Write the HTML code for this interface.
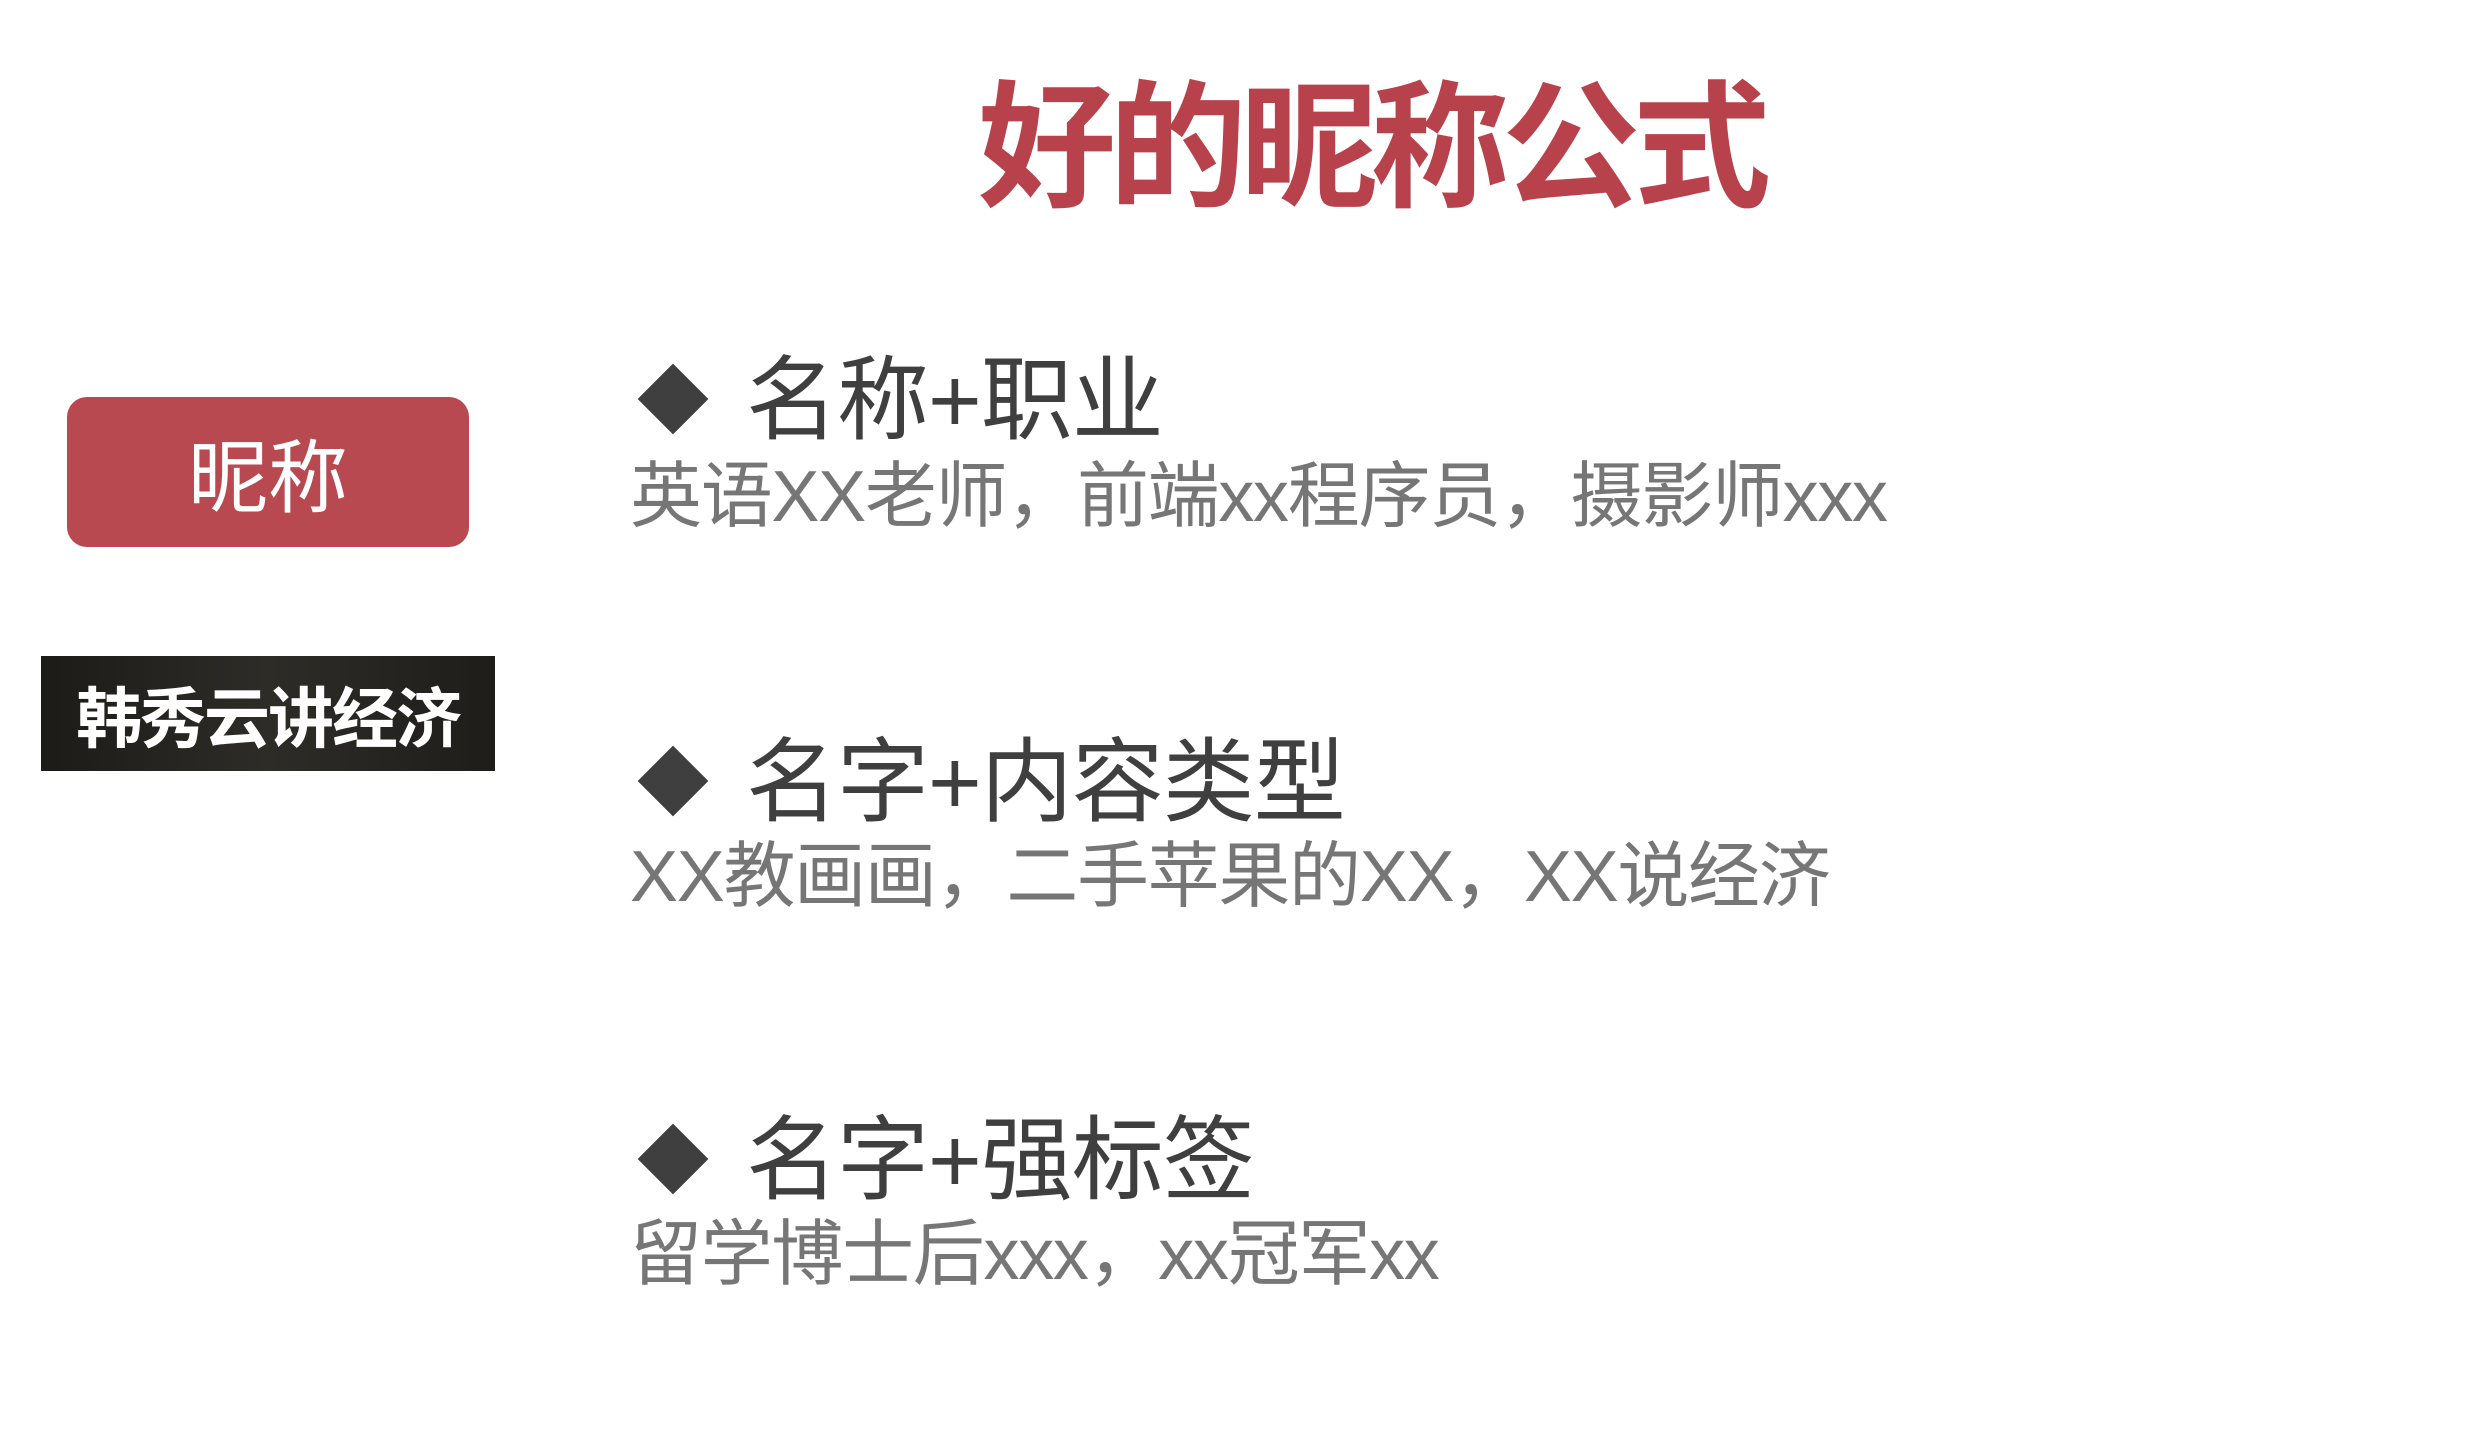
<!DOCTYPE html>
<html><head><meta charset="utf-8"><style>
html,body{margin:0;padding:0;background:#fff;}
body{width:2474px;height:1438px;position:relative;overflow:hidden;font-family:"Liberation Sans","Noto Sans CJK SC",sans-serif;}
.a{position:absolute;white-space:nowrap;line-height:1;}
.title{left:978px;top:80px;font-size:138px;font-weight:bold;color:#b8424c;letter-spacing:-7px;}
.btn{position:absolute;left:67px;top:397px;width:402px;height:150px;border-radius:20px;background:#b94950;color:#fff;font-size:80px;display:flex;align-items:center;justify-content:center;}
.dark{position:absolute;left:41px;top:656px;width:454px;height:115px;background:linear-gradient(90deg,#1c1b18,#2e2c27 50%,#1e1d1a);color:#fff;font-size:66px;font-weight:bold;display:flex;align-items:center;justify-content:center;letter-spacing:-2px;}
.dia{position:absolute;width:50px;height:50px;background:#3f3f3f;transform:rotate(45deg);}
.h{font-size:92px;color:#3f3f3f;left:746px;letter-spacing:-1px;}
.s{font-size:72px;color:#767676;left:630px;letter-spacing:-1.3px;}
</style></head><body>
<div class="a title">好的昵称公式</div>
<div class="btn">昵称</div>
<div class="dark">韩秀云讲经济</div>

<div class="dia" style="left:648px;top:374px;"></div>
<div class="a h" style="top:355px;">名称+职业</div>
<div class="a s" style="top:461px;">英语XX老师，前端xx程序员，摄影师xxx</div>

<div class="dia" style="left:648px;top:756px;"></div>
<div class="a h" style="top:737px;">名字+内容类型</div>
<div class="a s" style="top:841px;">XX教画画，二手苹果的XX，XX说经济</div>

<div class="dia" style="left:648px;top:1134px;"></div>
<div class="a h" style="top:1115px;">名字+强标签</div>
<div class="a s" style="top:1219px;">留学博士后xxx，xx冠军xx</div>
</body></html>
